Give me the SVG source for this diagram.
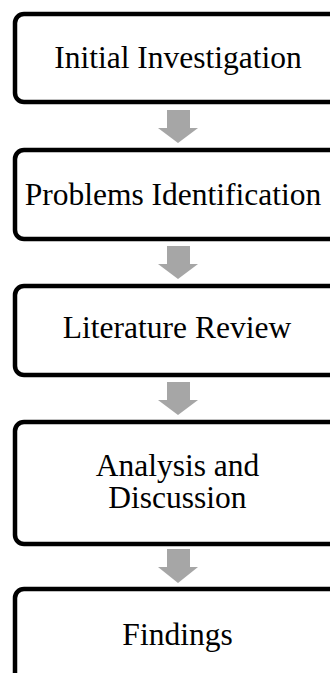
<svg xmlns="http://www.w3.org/2000/svg" width="330" height="675" viewBox="0 0 330 675">
<style>
.box{fill:#fff;stroke:#000;stroke-width:4.5}
.t{font-family:"Liberation Serif","Times New Roman",serif;font-size:31.5px;fill:#000;text-anchor:middle}
.arr{fill:#a6a6a6}
</style>
<rect width="330" height="675" fill="#fff"/>
<g id="connectors">
<path class="arr" d="M167,110 H190 V128 H198 L178,143 L158,128 H167 Z"/>
<path class="arr" d="M167,246 H190 V264 H198 L178,279 L158,264 H167 Z"/>
<path class="arr" d="M167,382 H190 V400 H198 L178,415 L158,400 H167 Z"/>
<path class="arr" d="M167,549 H190 V567 H198 L178,583 L158,567 H167 Z"/>
</g>
<g id="n1"><rect class="box" x="15" y="14" width="330" height="88" rx="9"/><text class="t" x="178" y="68">Initial Investigation</text></g>
<g id="n2"><rect class="box" x="15" y="150" width="330" height="89" rx="9"/><text class="t" x="173" y="205">Problems Identification</text></g>
<g id="n3"><rect class="box" x="15" y="286" width="330" height="89" rx="9"/><text class="t" x="177" y="338">Literature Review</text></g>
<g id="n4"><rect class="box" x="15" y="422" width="330" height="122" rx="9"/><text class="t" x="177.5" y="476">Analysis and</text><text class="t" x="177.5" y="508">Discussion</text></g>
<g id="n5"><rect class="box" x="15" y="589" width="330" height="120" rx="9"/><text class="t" x="177.5" y="645">Findings</text></g>
<rect x="0" y="673" width="330" height="2" fill="#fff"/>
</svg>
